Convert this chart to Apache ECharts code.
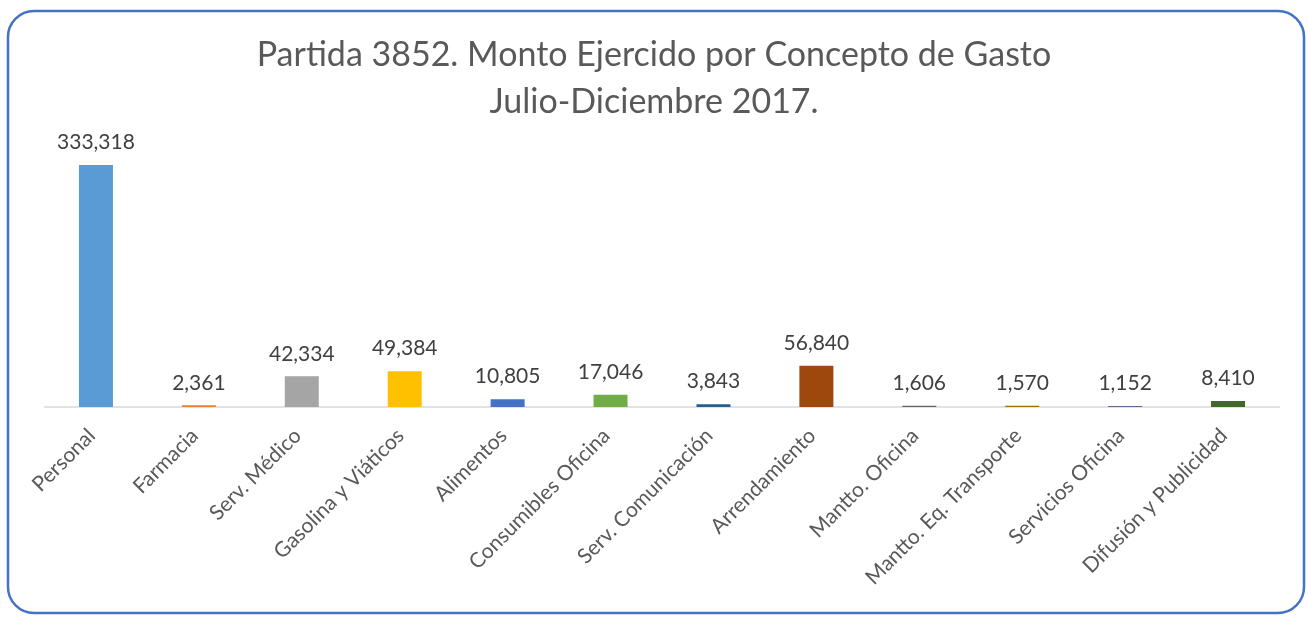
<!DOCTYPE html>
<html>
<head>
<meta charset="utf-8">
<script src="https://cdn.jsdelivr.net/npm/echarts@6/dist/echarts.min.js"></script>
<style>html,body{margin:0;padding:0;background:#fff}#c{width:1308px;height:617px}</style>
</head>
<body>
<div id="c"></div>
<script>
const categories = ['Personal','Farmacia','Serv. Médico','Gasolina y Viáticos','Alimentos','Consumibles Oficina','Serv. Comunicación','Arrendamiento','Mantto. Oficina','Mantto. Eq. Transporte','Servicios Oficina','Difusión y Publicidad'];
const values = [333318,2361,42334,49384,10805,17046,3843,56840,1606,1570,1152,8410];
const colors = ['#5B9BD5','#ED7D31','#A5A5A5','#FFC000','#4472C4','#70AD47','#255E91','#9E480E','#636363','#997300','#264478','#43682B'];
const titleLines = ['Partida 3852. Monto Ejercido por Concepto de Gasto','Julio-Diciembre 2017.'];
const FONT = 'Lato';
const chart = echarts.init(document.getElementById('c'));
chart.setOption({
  animation:false,
  title:{text:titleLines.join('\n'),left:'center',top:27,textStyle:{fontFamily:FONT,fontSize:34,fontWeight:'normal',color:'#595959',lineHeight:47}},
  graphic:[{type:'rect',shape:{x:8,y:11,width:1296,height:602,r:26},style:{fill:'none',stroke:'#4472C4',lineWidth:2.5},silent:true}],
  grid:{left:44.5,right:28.5,top:153,bottom:210,containLabel:false},
  xAxis:{type:'category',data:categories,axisTick:{show:false},axisLine:{lineStyle:{color:'#D9D9D9',width:1.5}},
    axisLabel:{rotate:45,interval:0,margin:21,padding:[0,6,0,0],fontFamily:FONT,fontSize:21,color:'#595959'}},
  yAxis:{type:'value',min:0,max:350000,show:false,splitLine:{show:false}},
  series:[{type:'bar',barWidth:34,data:values.map((v,i)=>({value:v,itemStyle:{color:colors[i]}})),
    label:{show:true,position:'top',distance:12,fontFamily:FONT,fontSize:21,color:'#404040',formatter:p=>p.value.toLocaleString('en-US')}}]
});
</script>
</body>
</html>
